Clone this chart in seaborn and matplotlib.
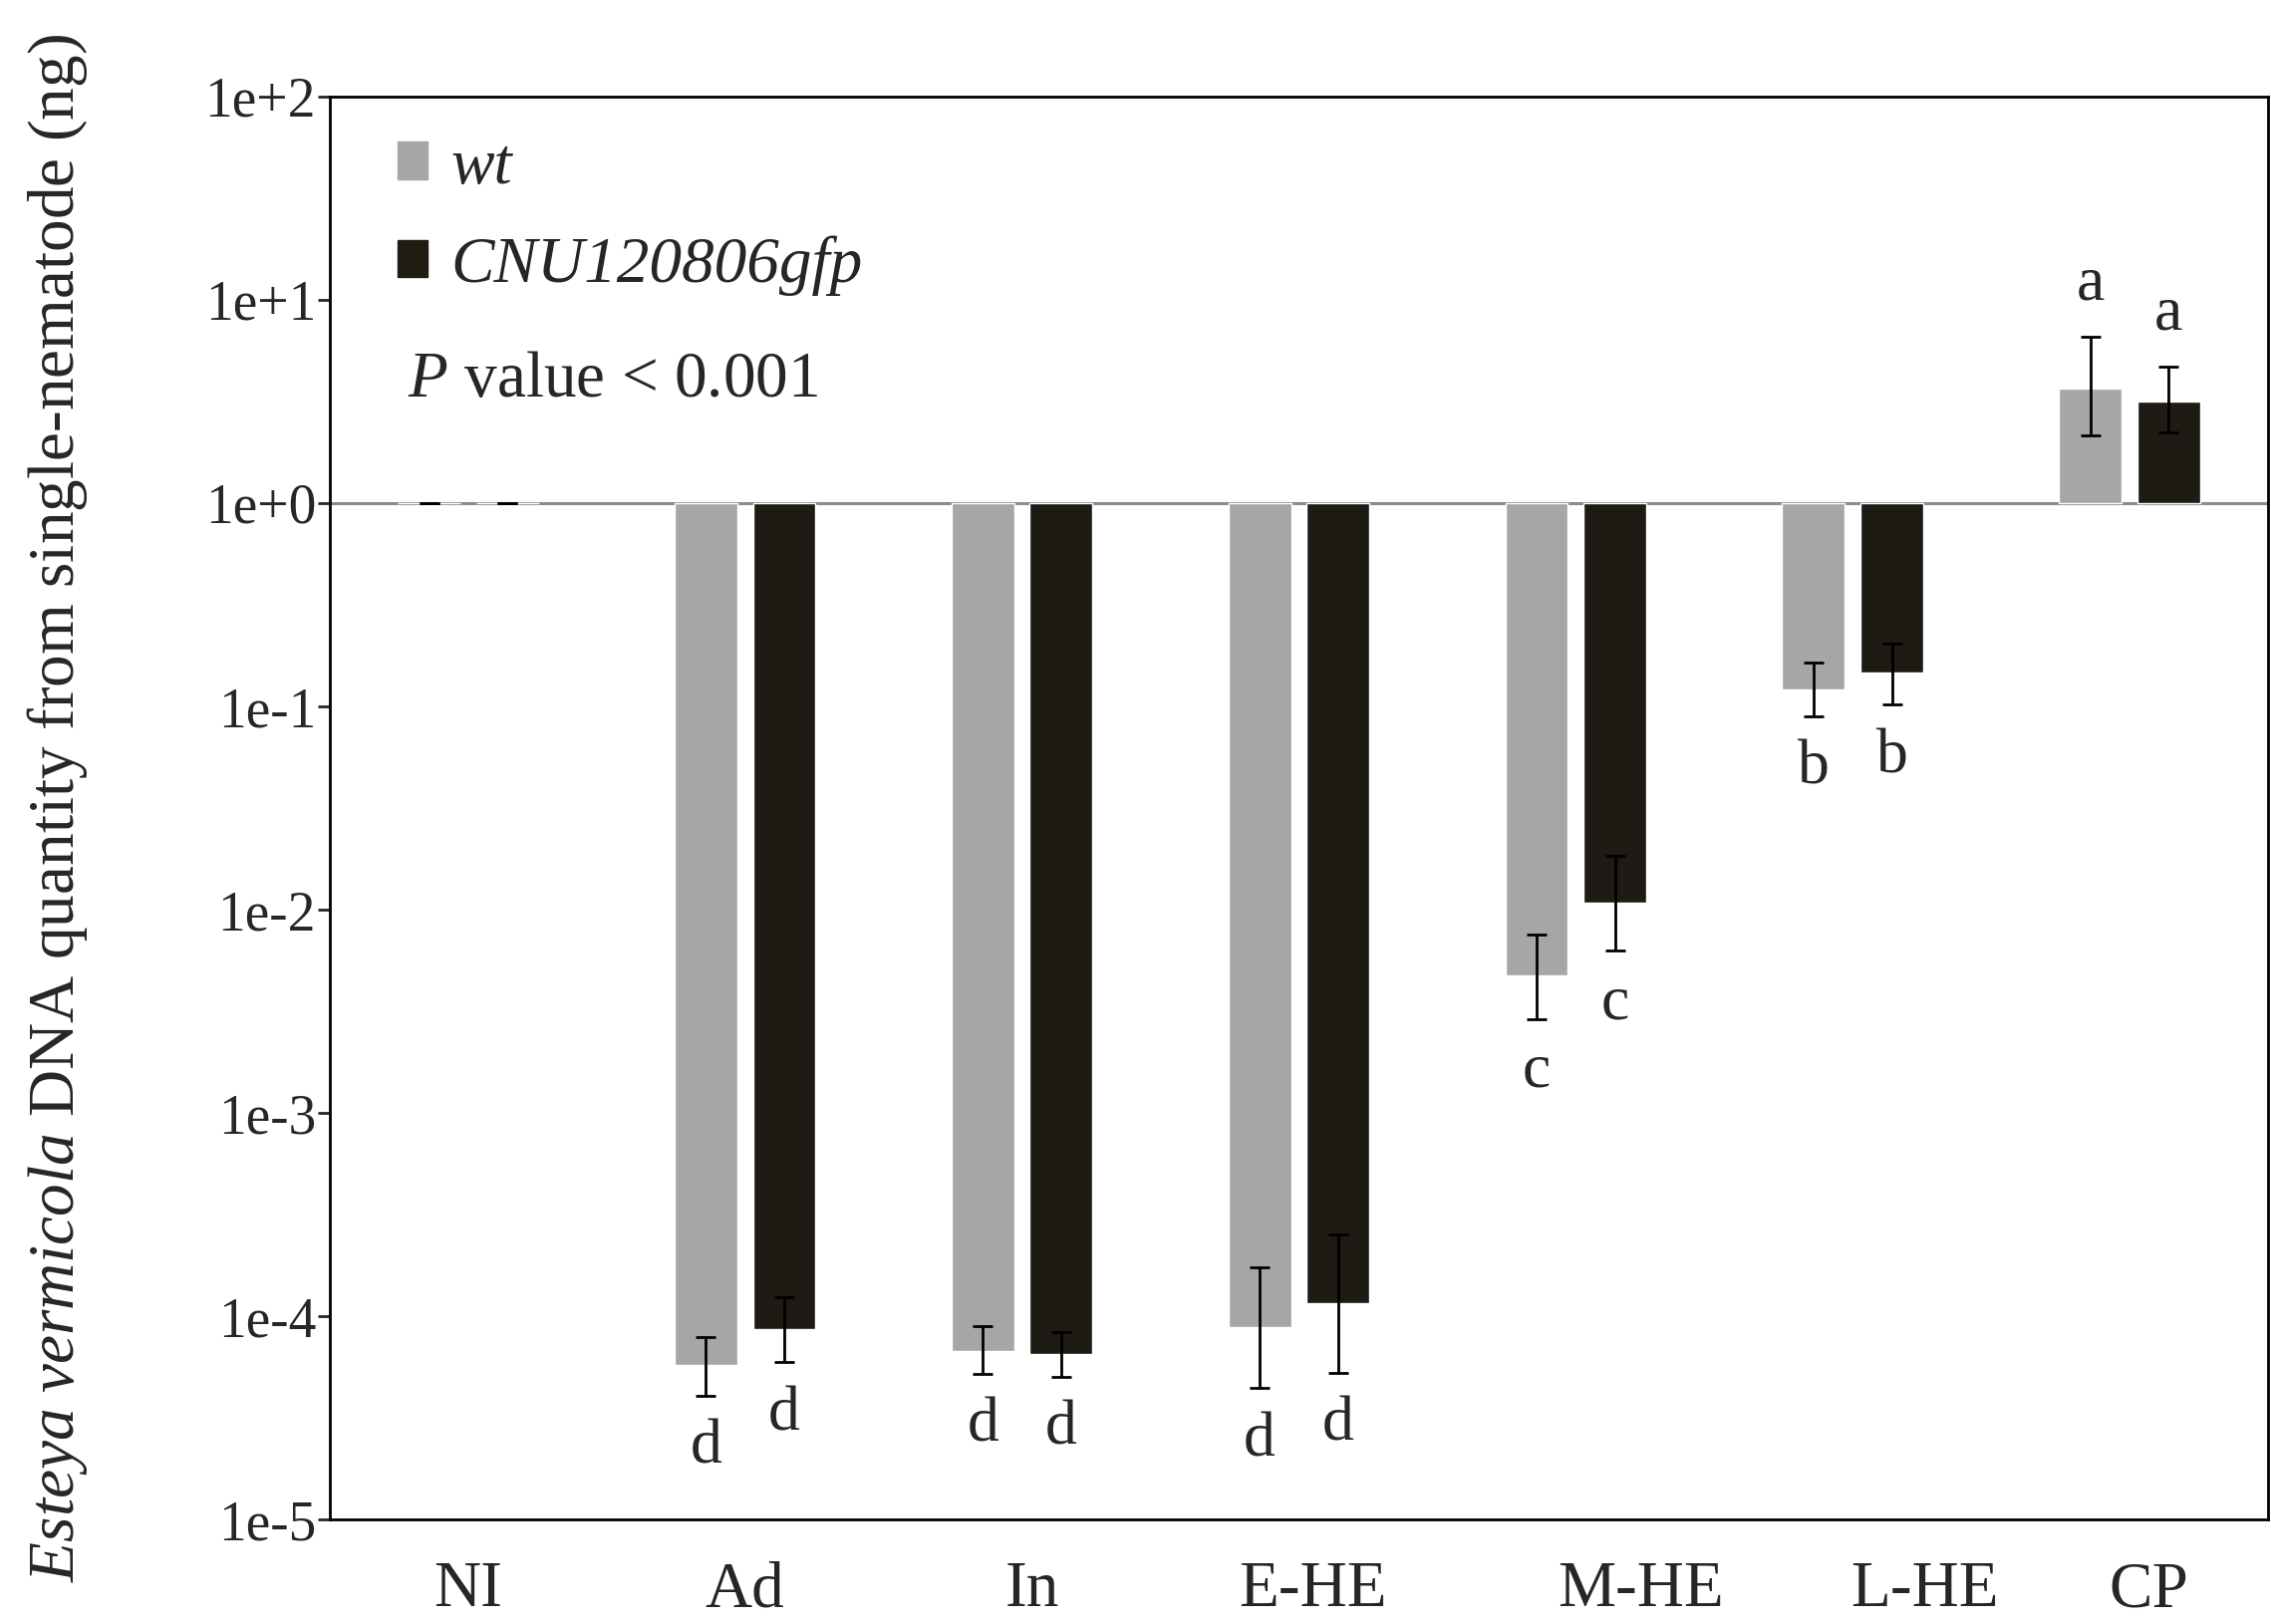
import numpy as np
import pandas as pd
import seaborn as sns
import matplotlib.pyplot as plt
from matplotlib.patches import Patch

# --- data (ng per single nematode) ---
categories = ["NI", "Ad", "In", "E-HE", "M-HE", "L-HE", "CP"]
strains = ["wt", "CNU120806gfp"]

wt_mean = [1.0, 5.74e-5, 6.76e-5, 8.79e-5, 4.74e-3, 0.1205, 3.66]
wt_low = [1.0, 4.07e-5, 5.20e-5, 4.42e-5, 2.90e-3, 0.0895, 2.16]
wt_high = [1.0, 7.85e-5, 8.95e-5, 1.73e-4, 7.50e-3, 0.164, 6.60]

cnu_mean = [1.0, 8.65e-5, 6.55e-5, 1.16e-4, 1.08e-2, 0.1466, 3.16]
cnu_low = [1.0, 5.93e-5, 5.04e-5, 5.28e-5, 6.28e-3, 0.102, 2.23]
cnu_high = [1.0, 1.24e-4, 8.38e-5, 2.52e-4, 1.85e-2, 0.204, 4.68]

wt_letters = ["", "d", "d", "d", "c", "b", "a"]
cnu_letters = ["", "d", "d", "d", "c", "b", "a"]

ytick_exp = [-5, -4, -3, -2, -1, 0, 1, 2]

colors = {"wt": "#A6A6A6", "CNU120806gfp": "#1F1C12"}

# the category labels in the original sit a little right of the bar groups
label_shift = [0, 0, 0.035, 0.05, 0.235, 0.26, 0.07]

# bars are drawn on log10 scale so they start at 1e+0
df = pd.DataFrame({
    "cat": categories * 2,
    "strain": ["wt"] * len(categories) + ["CNU120806gfp"] * len(categories),
    "logval": np.log10(wt_mean + cnu_mean),
})

sns.set_style("ticks")
plt.rcParams["font.family"] = ["Liberation Serif", "DejaVu Serif"]
plt.rcParams["mathtext.fontset"] = "custom"
plt.rcParams["mathtext.rm"] = "Liberation Serif"
plt.rcParams["mathtext.it"] = "Liberation Serif:italic"

fig = plt.figure(figsize=(22.79, 16.30), dpi=100)
ax = fig.add_axes([0.1452, 0.0644, 0.8535, 0.8761])

sns.barplot(data=df, x="cat", y="logval", hue="strain", order=categories,
            hue_order=strains, palette=colors, width=0.566, gap=0.2,
            errorbar=None, legend=False, ax=ax, zorder=2)

# zero line at 1e+0
ax.axhline(0, color="#8C8C8C", lw=2.2, zorder=1)

# error bars and significance letters
series = [(wt_mean, wt_low, wt_high, wt_letters),
          (cnu_mean, cnu_low, cnu_high, cnu_letters)]
for cont, (mean, low, high, letters) in zip(ax.containers, series):
    xs = [b.get_x() + b.get_width() / 2 for b in cont]
    m = np.log10(mean)
    lo = np.log10(low)
    hi = np.log10(high)
    ax.errorbar(xs, m, yerr=[m - lo, hi - m], fmt="none", ecolor="black",
                elinewidth=2, capsize=7, capthick=2, zorder=3)
    for x, mv, l, h, txt in zip(xs, m, lo, hi, letters):
        if not txt:
            continue
        if mv < 0:
            ax.annotate(txt, (x, l), xytext=(0, -38), textcoords="offset points",
                        ha="center", va="center", fontsize=46)
        else:
            ax.annotate(txt, (x, h), xytext=(0, 38), textcoords="offset points",
                        ha="center", va="center", fontsize=46)

ax.set_xlim(-0.5, len(categories) - 0.5)
ax.set_ylim(-5, 2)
ax.set_yticks(ytick_exp)
ax.set_yticklabels([f"1e{e:+d}" for e in ytick_exp])
ax.set_xticks(np.arange(len(categories)) + np.array(label_shift))
ax.set_xticklabels(categories)
ax.tick_params(axis="y", labelsize=40, length=9, width=2, pad=1)
ax.tick_params(axis="x", labelsize=47, length=0, pad=30)
ax.set_xlabel("")
ax.set_ylabel(r"$\mathit{Esteya\ vermicola}$ DNA quantity from single-nematode (ng)",
              fontsize=47)
ax.yaxis.set_label_coords(-0.124, 0.5)

for s in ax.spines.values():
    s.set_visible(True)
    s.set_linewidth(2)
    s.set_color("black")

handles = [Patch(color=colors[s]) for s in strains]
leg = ax.legend(handles, strains, loc="upper left", bbox_to_anchor=(0.005, 1.012),
                frameon=False, handlelength=0.46, handleheight=0.5, handletextpad=0.35,
                labelspacing=0.58, prop={"style": "italic", "size": 47})

ax.text(0.04, 0.80, r"$\mathit{P}$ value < 0.001", transform=ax.transAxes,
        fontsize=47, ha="left", va="center")

fig.savefig("out.png", dpi=100)
